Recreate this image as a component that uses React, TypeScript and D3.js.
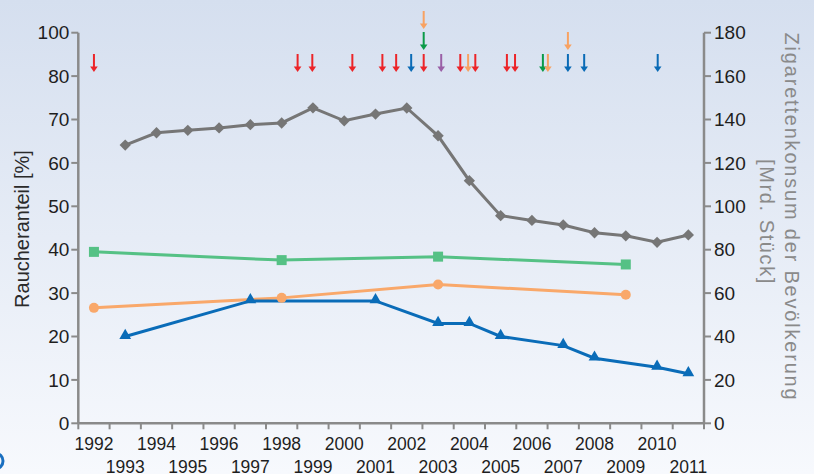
import React from "react";
import * as d3 from "d3";

// ---------- data ----------
const years = d3.range(1992, 2012).map(String);

// cigarette consumption (bn pieces, right axis)
const consumptionYears = ["1993","1994","1995","1996","1997","1998","1999","2000","2001","2002","2003","2004","2005","2006","2007","2008","2009","2010","2011"];
const consumptionValues = [128.2,133.9,135.0,136.1,137.6,138.4,145.4,139.4,142.5,145.3,132.5,111.8,95.7,93.5,91.4,87.8,86.4,83.4,86.8];

// smoker share (%), left axis
const greenYears = ["1992","1998","2003","2009"];
const greenValues = [39.5,37.6,38.4,36.6];
const orangeYears = ["1992","1998","2003","2009"];
const orangeValues = [26.6,28.9,32.0,29.6];
const blueYears = ["1993","1997","2001","2003","2004","2005","2007","2008","2010","2011"];
const blueValues = [20.0,28.2,28.2,23.0,23.0,20.0,17.9,15.0,12.9,11.4];

// event arrows (decimal year, colour key, stack row)
const eventDates = [1992.5,1999.01,1999.48,2000.76,2001.72,2002.16,2002.64,2003.04,2003.04,2003.04,2003.6,2004.21,2004.46,2004.69,2005.7,2005.96,2006.85,2007.01,2007.65,2007.65,2008.17,2010.52];
const eventKinds = ["red","red","red","red","red","red","blue","red","green","orange","purple","red","orange","red","red","red","green","orange","blue","orange","blue","blue"];
const eventRows = [0,0,0,0,0,0,0,0,1,2,0,0,0,0,0,0,0,0,0,1,0,0];

const leftTicks = [0,10,20,30,40,50,60,70,80,100];
const rightTicks = [0,20,40,60,80,100,120,140,160,180];

const arrowColors: Record<string,string> = {
  red: "#ec2428",
  blue: "#0a6bb6",
  green: "#0a9a48",
  orange: "#f8a262",
  purple: "#9a5fa6",
};

export default function App() {
  const W = 814, H = 474;
  const x0 = 78.3, x1 = 704;
  const yBase = 423.3, yTop = 32.7;

  const x = d3.scaleBand<string>().domain(years).range([x0, x1]).padding(0);
  const xc = (y: string) => (x(y) as number) + x.bandwidth() / 2;
  const xt = d3.scaleLinear().domain([1992, 2012]).range([x0, x1]);
  const yR = d3.scaleLinear().domain([0, 180]).range([yBase, yTop]);
  const yL = d3.scaleLinear().domain([0, 80, 100]).range([yBase, yR(160), yTop]);

  const lineGen = d3.line<[number, number]>().x(d => d[0]).y(d => d[1]);

  const grayPts: [number, number][] = consumptionYears.map((y, i) => [xc(y), yR(consumptionValues[i])]);
  const greenPts: [number, number][] = greenYears.map((y, i) => [xc(y), yL(greenValues[i])]);
  const orangePts: [number, number][] = orangeYears.map((y, i) => [xc(y), yL(orangeValues[i])]);
  const bluePts: [number, number][] = blueYears.map((y, i) => [xc(y), yL(blueValues[i])]);

  const font = "'Liberation Sans', Arial, Helvetica, sans-serif";
  const axisColor = "#8a8a8a";
  const tri = d3.symbol().type(d3.symbolTriangle).size(60)() as string;

  const rowTop = [54, 32, 11];
  const arrowLen = 18;

  return (
    <svg width={W} height={H} style={{ position: "absolute", left: 0, top: 0 }} fontFamily={font}>
      <defs>
        <linearGradient id="bg" x1="0" y1="0" x2="0" y2="1">
          <stop offset="0" stopColor="#d5dfef" />
          <stop offset="1" stopColor="#f7f9fd" />
        </linearGradient>
      </defs>
      <rect x={0} y={0} width={W} height={H} fill="url(#bg)" />
      <circle cx={-5} cy={461} r={8} fill="none" stroke="#1a6fc0" strokeWidth={3} />

      {/* left axis */}
      <line x1={x0} x2={x0} y1={yTop} y2={yBase} stroke={axisColor} strokeWidth={2.5} />
      {leftTicks.map(t => (
        <g key={"l" + t}>
          <line x1={x0 - 7} x2={x0} y1={yL(t)} y2={yL(t)} stroke={axisColor} strokeWidth={2} />
          <text x={x0 - 9} y={yL(t)} dy="0.35em" textAnchor="end" fontSize={19} fill="#1e1e1e">{t}</text>
        </g>
      ))}
      {/* right axis */}
      <line x1={x1} x2={x1} y1={yTop} y2={yBase} stroke={axisColor} strokeWidth={2.5} />
      {rightTicks.map(t => (
        <g key={"r" + t}>
          <line x1={x1} x2={x1 + 7} y1={yR(t)} y2={yR(t)} stroke={axisColor} strokeWidth={2} />
          <text x={x1 + 10} y={yR(t)} dy="0.35em" textAnchor="start" fontSize={19} fill="#1e1e1e">{t}</text>
        </g>
      ))}
      {/* bottom axis */}
      <line x1={x0} x2={x1} y1={yBase} y2={yBase} stroke={axisColor} strokeWidth={2.5} />
      {years.concat(["2012"]).map((y, i) => {
        const px = i < years.length ? (x(y) as number) : x1;
        return <line key={"bt" + y} x1={px} x2={px} y1={yBase} y2={yBase + 6} stroke={axisColor} strokeWidth={2} />;
      })}
      {years.map((y, i) => (
        <text key={"bl" + y} x={xc(y)} y={i % 2 === 0 ? 450 : 473} textAnchor="middle" fontSize={17.5} fill="#1e1e1e">{y}</text>
      ))}

      {/* axis titles */}
      <text transform={`translate(29,229) rotate(-90)`} textAnchor="middle" fontSize={20} fill="#2a2a2a">Raucheranteil [%]</text>
      <text transform={`translate(785,217) rotate(90)`} textAnchor="middle" fontSize={20} letterSpacing={1.8} fill="#8a8a8a">Zigarettenkonsum der Bevölkerung</text>
      <text transform={`translate(760,222) rotate(90)`} textAnchor="middle" fontSize={20} letterSpacing={1.6} fill="#8a8a8a">[Mrd. Stück]</text>

      {/* series lines */}
      <path d={lineGen(greenPts) as string} fill="none" stroke="#55c185" strokeWidth={3} />
      <path d={lineGen(orangePts) as string} fill="none" stroke="#f9a86a" strokeWidth={3} />
      <path d={lineGen(bluePts) as string} fill="none" stroke="#0a6cb8" strokeWidth={3} />
      <path d={lineGen(grayPts) as string} fill="none" stroke="#767676" strokeWidth={3} />

      {greenPts.map((p, i) => (
        <rect key={"gs" + i} x={p[0] - 5} y={p[1] - 5} width={10} height={10} fill="#55c185" />
      ))}
      {orangePts.map((p, i) => (
        <circle key={"oc" + i} cx={p[0]} cy={p[1]} r={5} fill="#f9a86a" />
      ))}
      {bluePts.map((p, i) => (
        <path key={"bt" + i} d={tri} transform={`translate(${p[0]},${p[1] - 1})`} fill="#0a6cb8" />
      ))}
      {grayPts.map((p, i) => (
        <rect key={"gd" + i} x={-4} y={-4} width={8} height={8} transform={`translate(${p[0]},${p[1]}) rotate(45)`} fill="#767676" />
      ))}

      {/* event arrows */}
      {eventDates.map((d, i) => {
        const ax = xt(d);
        const top = rowTop[eventRows[i]];
        const tip = top + arrowLen;
        const c = arrowColors[eventKinds[i]];
        return (
          <g key={"ev" + i}>
            <line x1={ax} x2={ax} y1={top} y2={tip - 4} stroke={c} strokeWidth={2} />
            <path d={`M${ax - 3.8},${tip - 5.5} L${ax + 3.8},${tip - 5.5} L${ax},${tip} Z`} fill={c} />
          </g>
        );
      })}
    </svg>
  );
}
